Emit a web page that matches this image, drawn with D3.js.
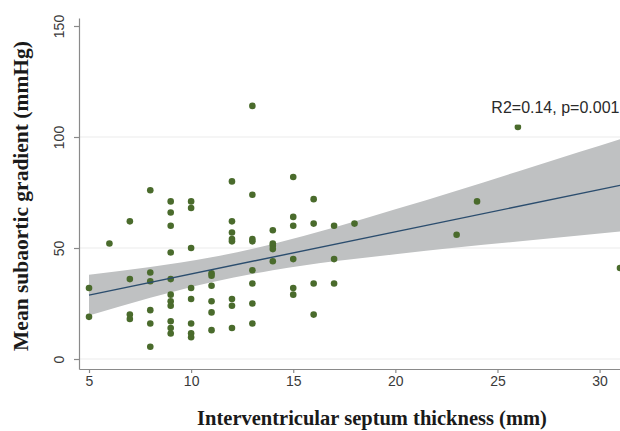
<!DOCTYPE html>
<html>
<head>
<meta charset="utf-8">
<script src="https://cdn.jsdelivr.net/npm/d3@7"></script>
<style>
  body { margin: 0; background: #fff; }
  svg { display: block; }
  .axis path, .axis line { stroke: #8a8a8a; stroke-width: 1.2; }
  .axis text { fill: #3a3a3a; font-family: "Liberation Sans", Arial, sans-serif; font-size: 14px; }
  .title { font-family: "Liberation Serif", "Times New Roman", serif; font-weight: bold; fill: #1a1a1a; }
</style>
</head>
<body>
<svg id="chart"></svg>
<script>
// septum thickness (mm) vs gradient (mmHg)
var ivsX = [5, 5, 6, 7, 7, 7, 7, 8, 8, 8, 8, 8, 8,
  9, 9, 9, 9, 9, 9, 9, 9, 9, 9, 9,
  10, 10, 10, 10, 10, 10, 10, 10,
  11, 11, 11, 11, 11, 11,
  12, 12, 12, 12, 12, 12, 12, 12,
  13, 13, 13, 13, 13, 13, 13, 13,
  14, 14, 14, 14, 14,
  15, 15, 15, 15, 15, 15,
  16, 16, 16, 16,
  17, 17, 17,
  18, 23, 24, 26, 31];
var gradY = [32, 19, 52, 62, 36, 20, 18, 76, 39, 35, 22, 16, 5.5,
  71, 66, 60, 48, 36, 29, 26, 24, 17, 14, 11.5,
  71, 68, 50, 32, 27, 16, 11.6, 9.8,
  38.6, 37.5, 33, 26, 21, 13,
  80, 62, 57, 54, 53, 27, 24, 14,
  114, 74, 54, 53, 40, 34, 25, 16,
  58, 52, 51, 49.5, 44,
  82, 64, 60, 45, 32, 29,
  72, 61, 34, 20,
  60, 45, 34,
  61, 56, 71, 104.5, 41];

// fitted line and 95% band
var fitX = [5, 31];
var fitY = [28.8, 78.2];
var bandX = [5, 8, 11, 14, 17, 20, 23, 26, 29, 31];
var bandLo = [19.6, 27.6, 34.6, 40.0, 44.0, 47.2, 50.2, 52.9, 55.6, 57.4];
var bandHi = [38.0, 41.4, 45.8, 51.8, 59.2, 67.4, 75.8, 84.5, 93.2, 99.0];

var xTicks = [5, 10, 15, 20, 25, 30];
var yTicks = [0, 50, 100, 150];
var gridVals = [0, 50, 100];
var note = "R2=0.14, p=0.001";

var W = 620, H = 431;
var svg = d3.select("#chart").attr("width", W).attr("height", H);

var x = d3.scaleLinear().domain([4.51, 31]).range([79, 620]);
var y = d3.scaleLinear().domain([-4.5, 153.6]).range([369, 18]);

// grid
svg.append("g").selectAll("line")
    .data(gridVals)
  .enter().append("line")
    .attr("x1", x(4.51)).attr("x2", W)
    .attr("y1", function(d) { return y(d); })
    .attr("y2", function(d) { return y(d); })
    .attr("stroke", "#ebebeb").attr("stroke-width", 1.2);

// confidence band
var band = bandX.map(function(v, i) { return { x: v, lo: bandLo[i], hi: bandHi[i] }; });
svg.append("path")
  .datum(band)
  .attr("fill", "#bfc1c2")
  .attr("d", d3.area()
    .x(function(d) { return x(d.x); })
    .y0(function(d) { return y(d.lo); })
    .y1(function(d) { return y(d.hi); })
    .curve(d3.curveMonotoneX));

// points
svg.append("g").selectAll("circle")
    .data(ivsX)
  .enter().append("circle")
    .attr("cx", function(d) { return x(d); })
    .attr("cy", function(d, i) { return y(gradY[i]); })
    .attr("r", 3.3)
    .attr("fill", "#4a6b2c");

// fit line
svg.append("path")
  .datum(fitX.map(function(v, i) { return [v, fitY[i]]; }))
  .attr("fill", "none")
  .attr("stroke", "#2b4d6e")
  .attr("stroke-width", 1.4)
  .attr("d", d3.line()
    .x(function(d) { return x(d[0]); })
    .y(function(d) { return y(d[1]); }));

// axes
var xAxis = d3.axisBottom(x).tickValues(xTicks).tickSize(4).tickSizeOuter(0).tickPadding(3);
var gx = svg.append("g")
  .attr("class", "axis")
  .attr("transform", "translate(0,369)")
  .call(xAxis);

var yAxis = d3.axisLeft(y).tickValues(yTicks).tickSize(5).tickSizeOuter(0);
var gy = svg.append("g")
  .attr("class", "axis")
  .attr("transform", "translate(79,0)")
  .call(yAxis);
gy.selectAll("text")
  .attr("x", null).attr("dy", null)
  .attr("transform", "translate(-15,0) rotate(-90)")
  .attr("text-anchor", "middle");

// annotation (its box hides the top of the nearby point)
var noteG = svg.append("g");
var noteText = noteG.append("text")
  .attr("x", x(24.7))
  .attr("y", y(111))
  .attr("font-family", "Liberation Sans, Arial, sans-serif")
  .attr("font-size", 16)
  .attr("fill", "#2a2a2a")
  .text(note);
var bb = noteText.node().getBBox();
noteG.insert("rect", "text")
  .attr("x", bb.x - 2).attr("y", bb.y)
  .attr("width", bb.width + 4).attr("height", bb.height + 9)
  .attr("fill", "#fff");

// titles
svg.append("text")
  .attr("class", "title")
  .attr("x", 372).attr("y", 425)
  .attr("text-anchor", "middle")
  .attr("font-size", 20.5)
  .text("Interventricular septum thickness (mm)");

svg.append("text")
  .attr("class", "title")
  .attr("transform", "translate(28,196) rotate(-90)")
  .attr("text-anchor", "middle")
  .attr("font-size", 21.5)
  .text("Mean subaortic gradient (mmHg)");
</script>
</body>
</html>
